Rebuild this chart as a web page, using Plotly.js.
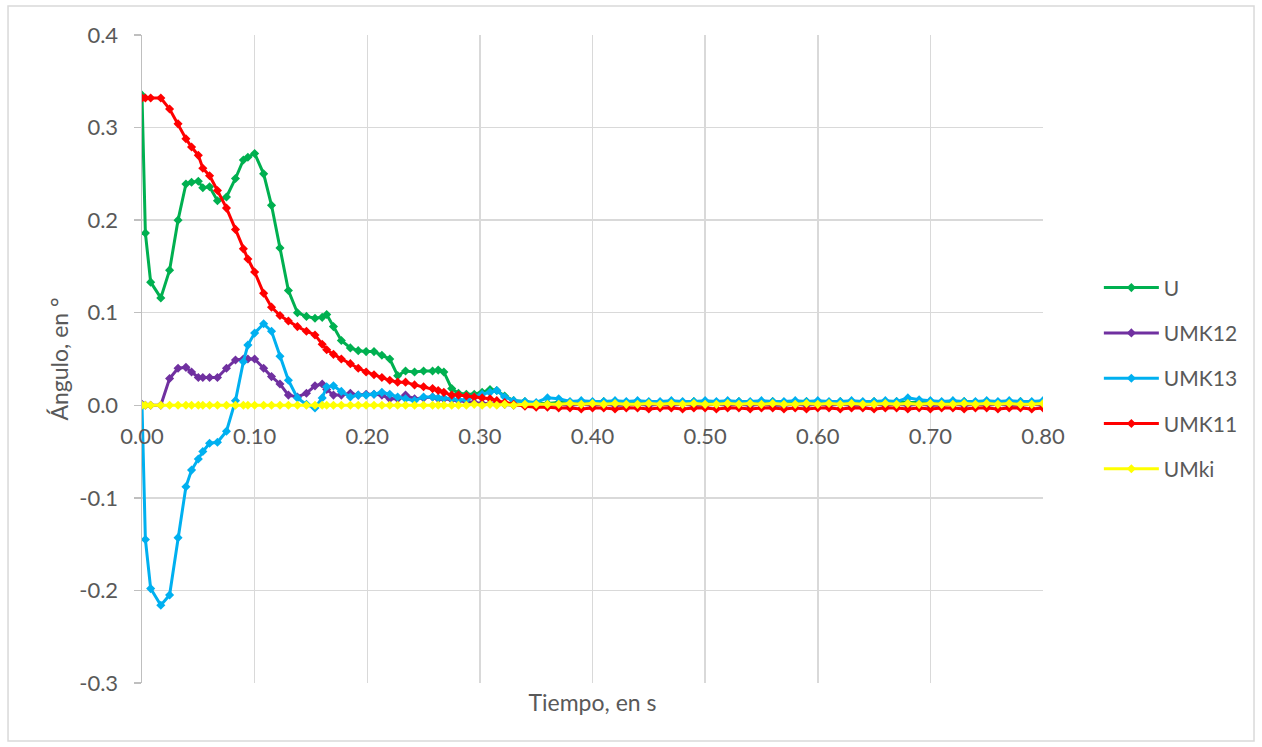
<!DOCTYPE html>
<html>
<head>
<meta charset="utf-8">
<script src="https://cdn.plot.ly/plotly-3.0.1.min.js"></script>
<style>html,body{margin:0;padding:0;background:#fff;}#chart{width:1262px;height:747px;}</style>
</head>
<body>
<div id="chart"></div>
<script>
// Time (s)
const time = [0,0.003,0.0077,0.0167,0.0245, 0.032,0.039,0.044,0.050,0.054, 0.060,0.067,0.075,0.083,0.090,
  0.094,0.100,0.108,0.115,0.1225, 0.130,0.138,0.146,0.1536,0.160, 0.164,0.170,0.177,0.185,0.192,
  0.199,0.206,0.213,0.220,0.227, 0.234,0.242,0.250,0.258,0.263, 0.268,0.275,0.281,0.288,0.295,
  0.302,0.309,0.315,0.322,0.330, 0.340,0.350,
  0.36,0.37,0.38,0.39,0.40, 0.41,0.42,0.43,0.44,0.45, 0.46,0.47,0.48,0.49,0.50,
  0.51,0.52,0.53,0.54,0.55, 0.56,0.57,0.58,0.59,0.60, 0.61,0.62,0.63,0.64,0.65,
  0.66,0.67,0.68,0.69,0.70, 0.71,0.72,0.73,0.74,0.75, 0.76,0.77,0.78,0.79,0.80];

const U = [0.335,0.186,0.133,0.116,0.146, 0.200,0.239,0.241,0.242,0.235, 0.236,0.221,0.225,0.245,0.265,
  0.268,0.272,0.250,0.216,0.170, 0.124,0.100,0.096,0.094,0.095, 0.098,0.085,0.070,0.062,0.059,
  0.058,0.058,0.054,0.050,0.032, 0.037,0.036,0.037,0.037,0.038, 0.036,0.018,0.013,0.012,0.012,
  0.014,0.017,0.016,0.010,0.005, 0.004,0.002,
  0.002,0.003,0.003,0.004,0.003, 0.004,0.003,0.003,0.004,0.003, 0.003,0.004,0.003,0.004,0.003,
  0.003,0.004,0.004,0.003,0.003, 0.004,0.003,0.003,0.004,0.003, 0.003,0.004,0.003,0.003,0.004,
  0.003,0.004,0.003,0.003,0.004, 0.003,0.003,0.004,0.003,0.004, 0.003,0.003,0.004,0.003,0.003];

const UMK12 = [0.001,0.000,0.000,0.000,0.029, 0.040,0.041,0.036,0.030,0.030, 0.030,0.030,0.040,0.049,0.050,
  0.050,0.050,0.040,0.031,0.023, 0.011,0.009,0.013,0.021,0.023, 0.017,0.011,0.011,0.013,0.011,
  0.012,0.012,0.011,0.007,0.007, 0.011,0.007,0.008,0.009,0.007, 0.007,0.006,0.005,0.004,0.003,
  0.002,0.002,0.001,0.001,0.000, 0.000,0.000,
  0.000,0.001,0.000,0.001,0.000, 0.001,0.000,0.000,0.001,0.000, 0.001,0.000,0.001,0.000,0.000,
  0.001,0.000,0.001,0.000,0.001, 0.000,0.000,0.001,0.000,0.001, 0.000,0.001,0.000,0.000,0.001,
  0.000,0.001,0.000,0.001,0.000, 0.000,0.001,0.000,0.001,0.000, 0.001,0.000,0.000,0.001,0.000];

const UMK13 = [0.000,-0.145,-0.198,-0.216,-0.205, -0.143,-0.088,-0.070,-0.058,-0.050, -0.041,-0.040,-0.028,0.005,0.047,
  0.065,0.078,0.088,0.080,0.053, 0.027,0.008,0.001,-0.003,0.008, 0.020,0.021,0.015,0.009,0.011,
  0.011,0.012,0.014,0.012,0.009, 0.007,0.005,0.009,0.009,0.008, 0.008,0.007,0.006,0.006,0.009,
  0.012,0.014,0.016,0.009,0.005, 0.004,0.003,
  0.008,0.007,0.004,0.005,0.004, 0.004,0.005,0.004,0.005,0.004, 0.004,0.005,0.004,0.004,0.005,
  0.004,0.005,0.004,0.004,0.005, 0.004,0.004,0.005,0.004,0.005, 0.004,0.004,0.005,0.004,0.004,
  0.005,0.004,0.008,0.006,0.005, 0.004,0.005,0.004,0.004,0.005, 0.004,0.005,0.004,0.004,0.005];

const UMK11 = [0.332,0.332,0.332,0.332,0.320, 0.304,0.288,0.279,0.270,0.256, 0.248,0.232,0.213,0.190,0.169,
  0.158,0.144,0.121,0.106,0.097, 0.091,0.085,0.080,0.076,0.066, 0.060,0.055,0.050,0.045,0.040,
  0.036,0.033,0.030,0.027,0.025, 0.025,0.022,0.020,0.018,0.016, 0.014,0.011,0.011,0.010,0.009,
  0.008,0.007,0.005,0.003,0.001, -0.001,-0.002,
  -0.002,-0.003,-0.003,-0.004,-0.003, -0.003,-0.004,-0.003,-0.003,-0.004, -0.003,-0.003,-0.004,-0.003,-0.003,
  -0.004,-0.003,-0.003,-0.004,-0.003, -0.003,-0.004,-0.003,-0.004,-0.003, -0.003,-0.004,-0.003,-0.003,-0.004,
  -0.003,-0.003,-0.004,-0.003,-0.004, -0.003,-0.003,-0.004,-0.003,-0.003, -0.004,-0.003,-0.003,-0.004,-0.003];

const UMki = [0.000,0.000,0.000,0.000,0.000, 0.000,0.000,0.000,0.000,0.000, 0.000,0.000,0.000,0.000,0.000,
  0.000,0.000,0.000,0.000,0.000, 0.000,0.000,0.000,0.000,0.000, 0.000,0.000,0.000,0.000,0.000,
  0.000,0.000,0.000,0.000,0.000, 0.000,0.000,0.000,0.000,0.000, 0.000,0.000,0.000,0.000,0.001,
  0.000,0.001,0.000,0.001,0.000, 0.001,0.001,
  0.001,0.001,0.002,0.001,0.002, 0.001,0.002,0.001,0.001,0.002, 0.001,0.002,0.001,0.002,0.001,
  0.001,0.002,0.001,0.002,0.001, 0.002,0.001,0.001,0.002,0.001, 0.002,0.001,0.002,0.001,0.001,
  0.002,0.001,0.002,0.001,0.002, 0.001,0.001,0.002,0.001,0.002, 0.001,0.002,0.001,0.001,0.002];

const seriesNames = ['U','UMK12','UMK13','UMK11','UMki'];
const seriesColors = ['#00B050','#7030A0','#00B0F0','#FF0000','#FFFF00'];
const seriesValues = [U, UMK12, UMK13, UMK11, UMki];

const xTickVals = [0,0.1,0.2,0.3,0.4,0.5,0.6,0.7,0.8];
const xTickText = ['0.00','0.10','0.20','0.30','0.40','0.50','0.60','0.70','0.80'];
const yTickVals = [-0.3,-0.2,-0.1,0,0.1,0.2,0.3,0.4];
const yTickText = ['-0.3','-0.2','-0.1','0.0','0.1','0.2','0.3','0.4'];

const FONT = 'Lato, "Open Sans", sans-serif';
const TXT = '#595959';

const traces = seriesNames.map((n, i) => ({
  type: 'scatter', mode: 'lines+markers', name: n,
  x: time, y: seriesValues[i],
  line: {color: seriesColors[i], width: 3},
  marker: {symbol: 'diamond', size: 7, color: seriesColors[i]},
  legendgroup: n
}));
// carrier for the tick labels placed on the zero line
traces.push({type:'scatter', mode:'markers', x:[0], y:[0], xaxis:'x2', yaxis:'y',
  marker:{opacity:0, size:1}, showlegend:false, hoverinfo:'skip'});

const layout = {
  width: 1262, height: 747,
  margin: {l: 142, r: 219, t: 35, b: 64},
  paper_bgcolor: '#fff', plot_bgcolor: '#fff',
  font: {family: FONT, color: TXT, size: 22},
  showlegend: true,
  legend: {x: 1.062, xanchor: 'left', y: 0.47, yanchor: 'middle',
           font: {family: FONT, size: 21, color: TXT}, itemwidth: 55,
           traceorder: 'grouped', tracegroupgap: 15, bgcolor: 'rgba(0,0,0,0)'},
  xaxis: {range: [0, 0.8], tickmode: 'array', tickvals: xTickVals, ticktext: xTickText,
          showticklabels: false, showgrid: true, gridcolor: '#d9d9d9', gridwidth: 1.5,
          zeroline: false, showline: false, ticks: '',
          title: {text: 'Tiempo, en s', font: {family: FONT, size: 23, color: TXT}, standoff: 11}},
  xaxis2: {range: [0, 0.8], overlaying: 'x', anchor: 'free', position: 0.3/0.7,
           tickmode: 'array', tickvals: xTickVals, ticktext: xTickText,
           showgrid: false, zeroline: false, showline: false, ticks: '',
           ticklabelstandoff: 16, tickfont: {family: FONT, size: 22, color: TXT}},
  yaxis: {range: [-0.3, 0.4], tickmode: 'array', tickvals: yTickVals, ticktext: yTickText,
          showgrid: true, gridcolor: '#d9d9d9', gridwidth: 1.5,
          zeroline: true, zerolinecolor: '#bfbfbf', zerolinewidth: 1.5,
          showline: true, linecolor: '#bfbfbf', linewidth: 1.5,
          ticks: 'outside', ticklen: 7, tickcolor: '#bfbfbf', tickwidth: 1.5,
          ticklabelstandoff: 11, tickfont: {family: FONT, size: 22, color: TXT},
          title: {text: 'Ángulo, en °', font: {family: FONT, size: 23, color: TXT}, standoff: 4}},
  shapes: [{type: 'rect', xref: 'paper', yref: 'paper',
            x0: -0.1487, x1: 1.2342, y0: -0.0895, y1: 1.0448,
            line: {color: '#d9d9d9', width: 1.5}, fillcolor: 'rgba(0,0,0,0)', layer: 'below'}]
};

Plotly.newPlot('chart', traces, layout, {displayModeBar: false, staticPlot: true});
</script>
</body>
</html>
